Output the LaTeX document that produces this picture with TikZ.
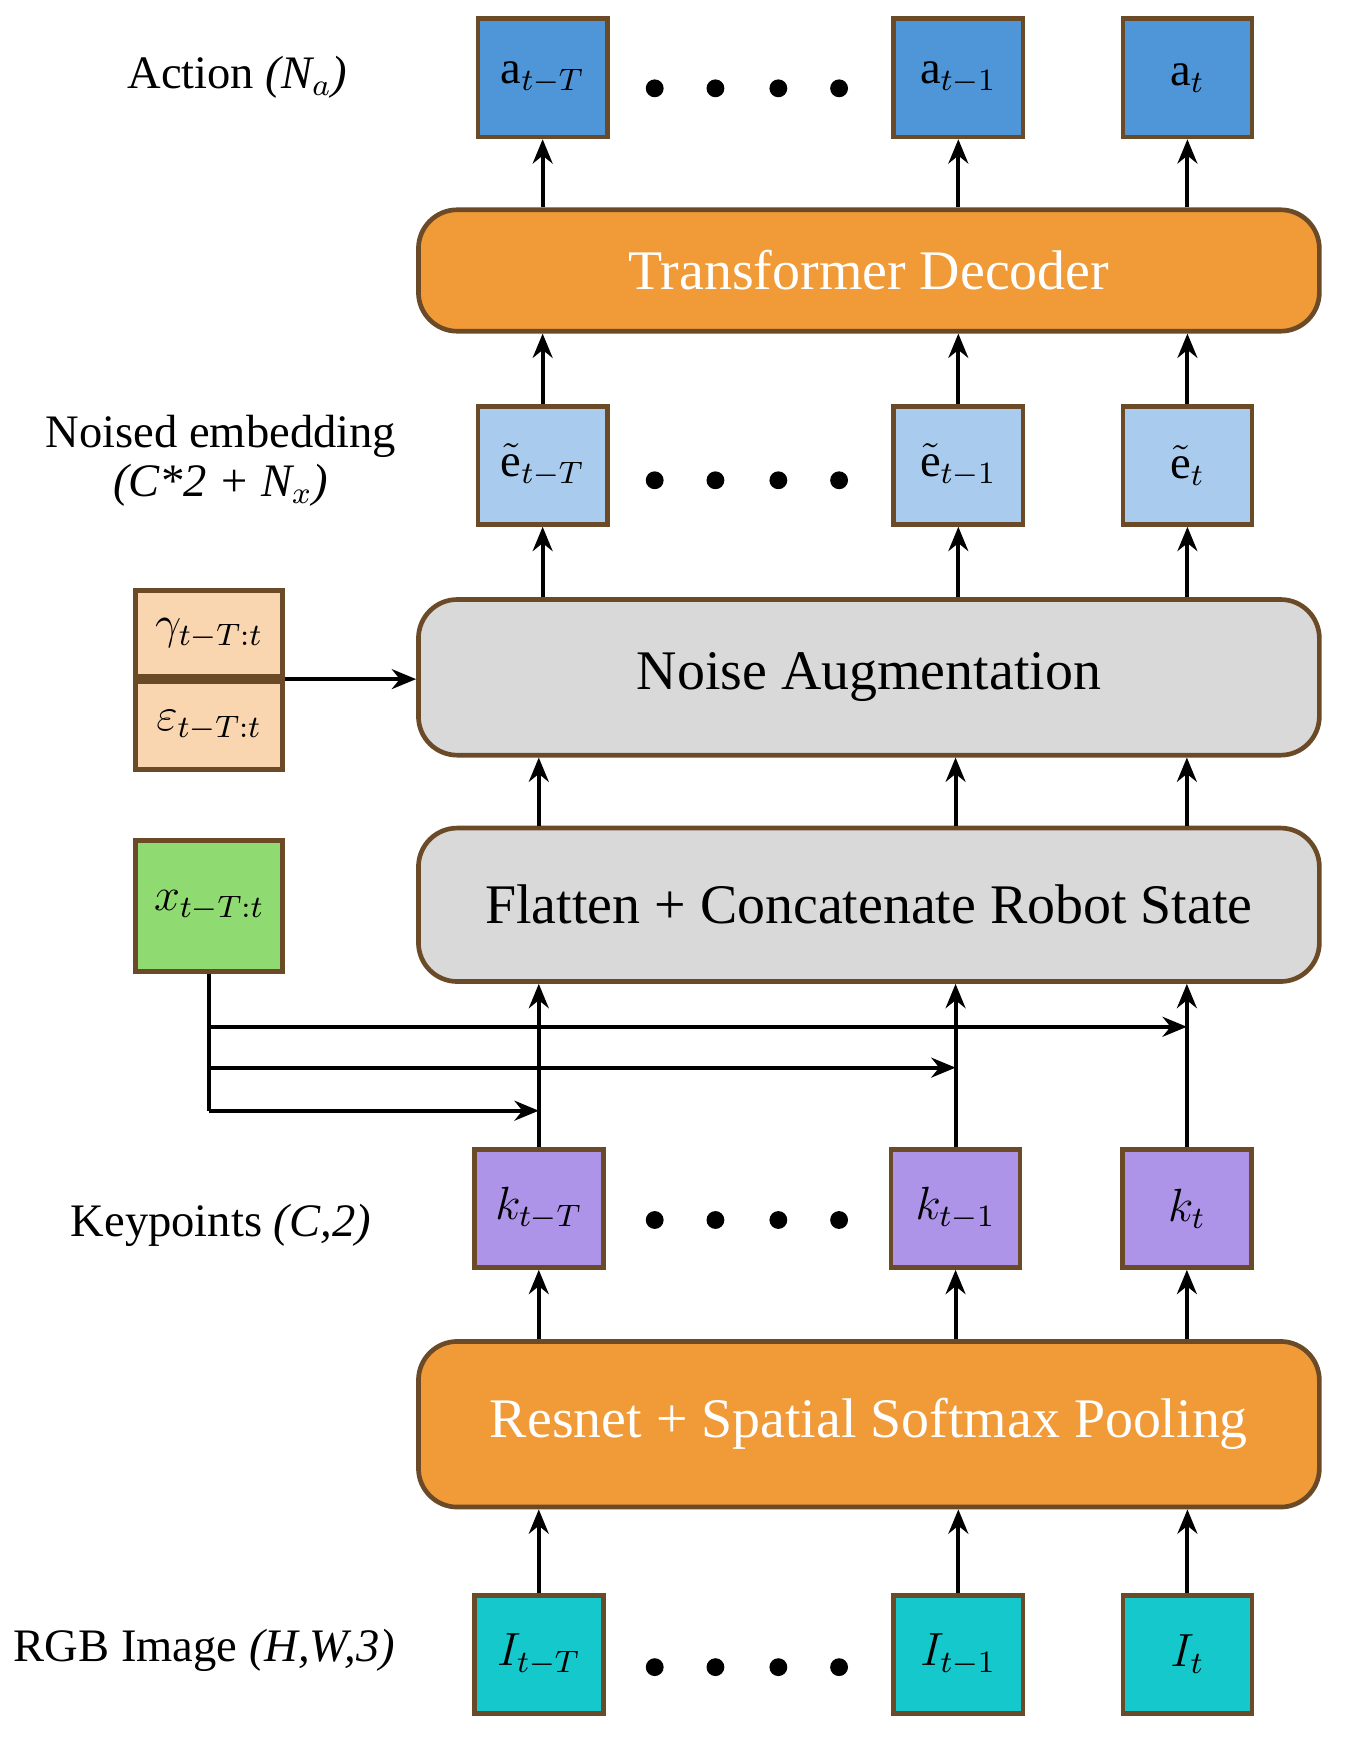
\documentclass[tikz,border=0pt]{standalone}
\usepackage{fontspec}
\setmainfont{Liberation Serif}
\usetikzlibrary{arrows.meta}
\definecolor{edgebrown}{HTML}{6B4A28}
\definecolor{actblue}{HTML}{4F96D9}
\definecolor{embblue}{HTML}{A9CBEE}
\definecolor{kppurple}{HTML}{AD94E8}
\definecolor{imgcyan}{HTML}{14C8CC}
\definecolor{blkorange}{HTML}{F09A38}
\definecolor{blkgray}{HTML}{D9D9D9}
\definecolor{noisepeach}{HTML}{F9D5B0}
\definecolor{stategreen}{HTML}{8FDB72}
\tikzset{
  tok/.style={draw=edgebrown,line width=1.2pt,minimum width=1.17cm,minimum height=1.07cm,inner sep=0pt,font=\large},
  block/.style={draw=edgebrown,line width=1.2pt,rounded corners=10pt,minimum width=8.16cm,inner sep=0pt,font=\Large},
  arr/.style={-{Stealth[length=2.2mm,width=1.8mm]},line width=1pt},
  lbl/.style={font=\large}
}
\begin{document}
\begin{tikzpicture}
        \useasboundingbox (0,0) rectangle (12.2,-15.76);
        % tokens
        \node[tok,fill=actblue] (a1) at (4.915,-0.705) {a$_{t-T}$};
        \node[tok,fill=actblue] (a2) at (8.68,-0.705) {a$_{t-1}$};
        \node[tok,fill=actblue] (a3) at (10.755,-0.705) {a$_{t}$};
        \node[tok,fill=embblue] (e1) at (4.915,-4.215) {$\tilde{\mathrm{e}}_{t-T}$};
        \node[tok,fill=embblue] (e2) at (8.68,-4.215) {$\tilde{\mathrm{e}}_{t-1}$};
        \node[tok,fill=embblue] (e3) at (10.755,-4.215) {$\tilde{\mathrm{e}}_{t}$};
        \node[tok,fill=kppurple] (k1) at (4.88,-10.945) {$k_{t-T}$};
        \node[tok,fill=kppurple] (k2) at (8.655,-10.945) {$k_{t-1}$};
        \node[tok,fill=kppurple] (k3) at (10.75,-10.945) {$k_{t}$};
        \node[tok,fill=imgcyan] (i1) at (4.88,-14.985) {$I_{t-T}$};
        \node[tok,fill=imgcyan] (i2) at (8.68,-14.985) {$I_{t-1}$};
        \node[tok,fill=imgcyan] (i3) at (10.755,-14.985) {$I_{t}$};

        % blocks
        \node[block,fill=blkorange,minimum height=1.1cm,text=white] (dec) at (7.87,-2.45) {Transformer Decoder};
        \node[block,fill=blkgray,minimum height=1.41cm] (aug) at (7.87,-6.135) {Noise Augmentation};
        \node[block,fill=blkgray,minimum height=1.39cm] (flat) at (7.87,-8.195) {Flatten + Concatenate Robot State};
        \node[block,fill=blkorange,minimum height=1.5cm,text=white] (res) at (7.87,-12.9) {Resnet + Spatial Softmax Pooling};

        % side inputs
        \node[tok,fill=noisepeach,minimum width=1.33cm,minimum height=0.78cm] (gam) at (1.895,-5.74) {$\gamma_{t-T:t}$};
        \node[tok,fill=noisepeach,minimum width=1.33cm,minimum height=0.8cm,anchor=north] (eps) at (gam.south) {$\varepsilon_{t-T:t}$};
        \node[tok,fill=stategreen,minimum width=1.33cm,minimum height=1.19cm] (st) at (1.895,-8.205) {$x_{t-T:t}$};

        % labels
        \node[lbl] (lact) at (2.15,-0.7) {Action \textit{(N$_a$)}};
        \node[lbl] (lemb) at (2.0,-3.95) {Noised embedding};
        \node[lbl] (lembd) at (2.0,-4.4) {\textit{(C*2 + N$_x$)}};
        \node[lbl] (lkp) at (2.0,-11.1) {Keypoints \textit{(C,2)}};
        \node[lbl] (limg) at (1.85,-14.95) {RGB Image \textit{(H,W,3)}};

        % dots
        \foreach \y in {-0.8,-4.35,-11.05,-15.1}
            \foreach \x in {5.93,6.48,7.05,7.6}
                \fill (\x,\y) circle (2.3pt);

        % arrows
        \foreach \n in {1,2,3} {
            \draw[arr] (i\n.north) -- (i\n.north |- res.south);
            \draw[arr] (res.north -| k\n) -- (k\n.south);
            \draw[arr] (k\n.north) -- (k\n.north |- flat.south);
            \draw[arr] (flat.north -| k\n) -- (k\n |- aug.south);
            \draw[arr] (aug.north -| e\n) -- (e\n.south);
            \draw[arr] (e\n.north) -- (e\n.north |- dec.south);
            \draw[arr] (dec.north -| a\n) -- (a\n.south);
        }
        \draw[arr] (gam.south east) -- (gam.south east -| aug.west);

        \draw[line width=1pt] (st.south) -- (1.895,-10.06);
        \draw[arr] (1.895,-9.3) -- (k3 |- 0,-9.3);
        \draw[arr] (1.895,-9.67) -- (k2 |- 0,-9.67);
        \draw[arr] (1.895,-10.06) -- (k1 |- 0,-10.06);
\end{tikzpicture}
\end{document}
